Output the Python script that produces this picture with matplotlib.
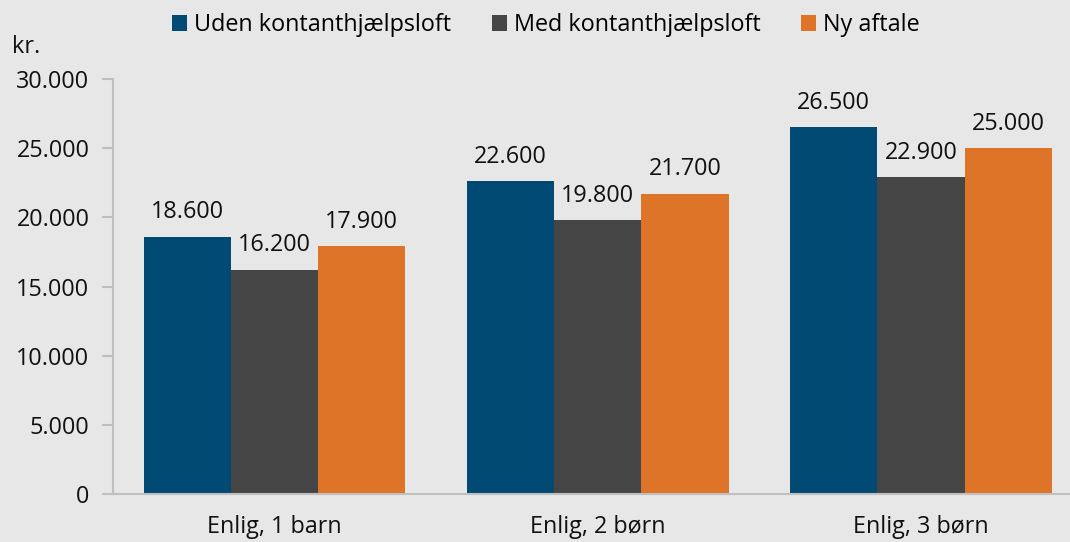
import matplotlib
matplotlib.use("Agg")
import matplotlib.pyplot as plt
import numpy as np

categories = ["Enlig, 1 barn", "Enlig, 2 børn", "Enlig, 3 børn"]
series_names = ["Uden kontanthjælpsloft", "Med kontanthjælpsloft", "Ny aftale"]
uden = [18600, 22600, 26500]
med = [16200, 19800, 22900]
ny = [17900, 21700, 25000]
colors = ["#004a73", "#454545", "#de7427"]
yticks = [0, 5000, 10000, 15000, 20000, 25000, 30000]

def fmt(v):
    return f"{v:,.0f}".replace(",", ".")

plt.rcParams['font.family'] = ['Open Sans', 'DejaVu Sans']
FS = 16.8
bg = "#e7e7e7"
fig = plt.figure(figsize=(10.7, 5.42), dpi=100, facecolor=bg)
ax = fig.add_axes([113/1070, 48/542, (1070-113)/1070, (494-79)/542], facecolor=bg)

x = np.arange(len(categories))
w = 0.27
for i, (vals, name, c) in enumerate(zip([uden, med, ny], series_names, colors)):
    pos = x + (i - 1) * w
    bars = ax.bar(pos, vals, width=w, color=c, label=name, zorder=2)
    for b, v in zip(bars, vals):
        ax.text(b.get_x() + b.get_width()/2, v + 900, fmt(v), ha='center', va='bottom', fontsize=FS, color='#111111')

ax.set_xlim(-0.5, 2.461)
ax.set_ylim(0, 30000)
ax.set_yticks(yticks)
ax.set_yticklabels([fmt(t) for t in yticks], fontsize=FS, color='#111111')
ax.set_xticks(x)
ax.set_xticklabels(categories, fontsize=FS, color='#111111')
ax.tick_params(axis='x', length=0, pad=15)
ax.tick_params(axis='y', length=8, color='#bfbfbf', width=1.5, pad=9)
for s in ['top', 'right']:
    ax.spines[s].set_visible(False)
for s in ['left', 'bottom']:
    ax.spines[s].set_color('#bfbfbf')
    ax.spines[s].set_linewidth(1.5)

fig.text(12/1070, 1 - 47/542, "kr.", fontsize=FS, ha='left', va='center', color='#111111')

leg = fig.legend(loc='center', bbox_to_anchor=(546/1070, 1 - 25/542), ncol=3, frameon=False,
                 fontsize=FS, handlelength=0.64, handleheight=0.64, handletextpad=0.3, columnspacing=1.75)

fig.savefig("out.png", dpi=100, facecolor=bg)
